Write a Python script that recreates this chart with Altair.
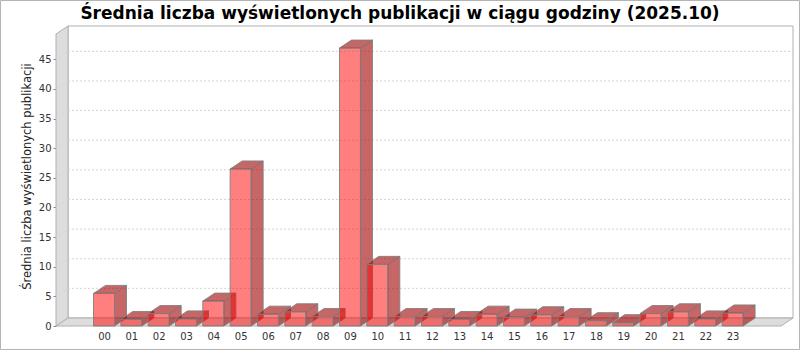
import altair as alt
import pandas as pd

# ---- data ----
HOURS = ["00", "01", "02", "03", "04", "05", "06", "07", "08", "09", "10", "11",
         "12", "13", "14", "15", "16", "17", "18", "19", "20", "21", "22", "23"]
VALUES = [5.5, 1.1, 2.1, 1.2, 4.2, 26.5, 2.0, 2.4, 1.6, 46.9, 10.4, 1.6,
          1.6, 1.1, 2.0, 1.5, 1.9, 1.6, 0.9, 0.56, 2.1, 2.4, 1.2, 2.2]
Y_TICKS = [0, 5, 10, 15, 20, 25, 30, 35, 40, 45]
TITLE = "Średnia liczba wyświetlonych publikacji w ciągu godziny (2025.10)"
Y_TITLE = "Średnia liczba wyświetlonych publikacji"

# ---- layout / 3D style constants ----
PLOT_W, PLOT_H = 737, 300
STEP_PX = 27.33          # distance between category centres
FIRST_PX = 48            # centre of first category from plot left
PX_PER_Y = 5.926         # pixels per value unit
BAR_W_PX = 21
DEPTH_X_PX, DEPTH_Y_PX = 12, 8

XMIN = -FIRST_PX / STEP_PX
XMAX = XMIN + PLOT_W / STEP_PX
YMAX = PLOT_H / PX_PER_Y
DX = DEPTH_X_PX / STEP_PX
DY = DEPTH_Y_PX / PX_PER_Y
HW = BAR_W_PX / 2 / STEP_PX

xs = alt.Scale(domain=[XMIN, XMAX], nice=False, zero=False)
ys = alt.Scale(domain=[0, YMAX], nice=False, zero=False)

FRONT, FRONT_OP = "#ff0000", 0.5
SIDE, SIDE_OP = "#a00000", 0.6

# ---- 3D bar faces built from the values ----
rows = []
for i, v in enumerate(VALUES):
    xl, xr = i - HW, i + HW
    fid = f"{i:02d}a"
    rows += [dict(id=fid, x=xl, y=0, y2=v, fill=FRONT, op=FRONT_OP),
             dict(id=fid, x=xr, y=0, y2=v, fill=FRONT, op=FRONT_OP)]
    tid = f"{i:02d}b"
    rows += [dict(id=tid, x=xl, y=v, y2=v, fill=SIDE, op=SIDE_OP),
             dict(id=tid, x=xl + DX, y=v, y2=v + DY, fill=SIDE, op=SIDE_OP),
             dict(id=tid, x=xr, y=v, y2=v + DY, fill=SIDE, op=SIDE_OP),
             dict(id=tid, x=xr + DX, y=v + DY, y2=v + DY, fill=SIDE, op=SIDE_OP)]
    sid = f"{i:02d}c"
    rows += [dict(id=sid, x=xr, y=0, y2=v, fill=SIDE, op=SIDE_OP),
             dict(id=sid, x=xr + DX, y=DY, y2=v + DY, fill=SIDE, op=SIDE_OP)]
bars_df = pd.DataFrame(rows)

# ---- walls / floor ----
walls_df = pd.DataFrame([
    dict(id="wall", x=XMIN, y=0, y2=YMAX - DY),
    dict(id="wall", x=XMIN + DX, y=DY, y2=YMAX),
    dict(id="floor", x=XMIN, y=0, y2=0),
    dict(id="floor", x=XMIN + DX, y=0, y2=DY),
    dict(id="floor", x=XMAX - DX, y=0, y2=DY),
    dict(id="floor", x=XMAX, y=DY, y2=DY),
])
back_df = pd.DataFrame([dict(x=XMIN + DX, x2=XMAX, y=DY, y2=YMAX)])

grid_rows = []
for t in Y_TICKS[1:]:
    grid_rows.append(dict(x=XMIN + DX, x2=XMAX, y=t + DY, y2=t + DY))
    grid_rows.append(dict(x=XMIN, x2=XMIN + DX, y=t, y2=t + DY))
grid_df = pd.DataFrame(grid_rows)

FONT = "DejaVu Sans"
label_expr = "[" + ",".join(f"'{h}'" for h in HOURS) + "][datum.value]"

x_axis = alt.Axis(
    values=list(range(len(HOURS))), labelExpr=label_expr, ticks=False, domain=False,
    grid=False, labelPadding=5, labelFontSize=10, labelFont=FONT, labelColor="#333333",
    title=None, labelFlush=False, labelOverlap=False)
y_axis = alt.Axis(
    values=Y_TICKS, grid=False, domain=False, tickSize=3, tickColor="#888888",
    labelPadding=2, labelFontSize=10, labelFont=FONT, labelColor="#333333",
    title=Y_TITLE, titleFont=FONT, titleFontSize=11.5, titleFontWeight="normal",
    titleColor="#222222", titleX=-26, titleY=150, titleAngle=270,
    titleAlign="center", titleBaseline="alphabetic")


def X():
    return alt.X("x:Q", scale=xs, axis=x_axis)


def Y(stack=False):
    if stack:
        return alt.Y("y:Q", scale=ys, axis=y_axis, stack=None)
    return alt.Y("y:Q", scale=ys, axis=y_axis)


back = alt.Chart(back_df).mark_rect(fill="white", stroke="#b0b0b0", strokeWidth=1).encode(
    x=X(), x2="x2:Q", y=Y(), y2="y2:Q")

walls = alt.Chart(walls_df).mark_area(fill="#dddddd", stroke="#b0b0b0", strokeWidth=1).encode(
    x=X(), y=Y(True), y2="y2:Q", detail="id:N")

grid = alt.Chart(grid_df).mark_rule(color="#d4d4d4", strokeDash=[2, 2], strokeWidth=1).encode(
    x=X(), x2="x2:Q", y=Y(), y2="y2:Q")

bars = alt.Chart(bars_df).mark_area(stroke="#808080", strokeWidth=1, strokeOpacity=0.9).encode(
    x=X(), y=Y(True), y2="y2:Q",
    detail="id:N",
    fill=alt.Fill("fill:N", scale=None),
    fillOpacity=alt.FillOpacity("op:Q", scale=None),
)

border = alt.Chart(pd.DataFrame([{"k": 0}])).mark_rect(fillOpacity=0, stroke="#b4b4b4", strokeWidth=1).encode(
    x=alt.value(-55.5), x2=alt.value(743.5), y=alt.value(-25.5), y2=alt.value(323.5))

title = alt.Chart(pd.DataFrame([{"t": TITLE}])).mark_text(
    font=FONT, fontSize=17, fontWeight="bold", color="#000000",
    align="center", baseline="alphabetic").encode(
    text="t:N", x=alt.value(344), y=alt.value(-7))

chart = alt.layer(back, walls, grid, bars, border, title).properties(
    width=PLOT_W, height=PLOT_H,
    autosize=alt.AutoSizeParams(type="none"),
    padding={"left": 56, "top": 26, "right": 7, "bottom": 24},
    background="white",
).configure_view(stroke=None)

chart.save("out.html", embed_options={"renderer": "svg", "actions": False})
